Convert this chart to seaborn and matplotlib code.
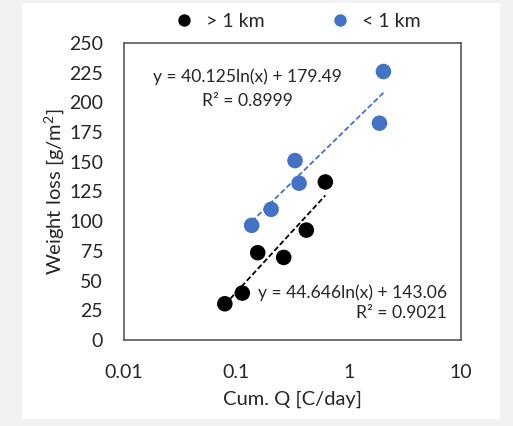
import numpy as np
import pandas as pd
import matplotlib
matplotlib.use("Agg")
import matplotlib.pyplot as plt
from matplotlib.patches import Rectangle
from matplotlib.ticker import LogLocator, MultipleLocator, FixedLocator
import seaborn as sns

# data
far_q = [0.079, 0.113, 0.155, 0.264, 0.42, 0.62]
far_loss = [30.5, 39.5, 73.5, 69.5, 92.5, 133]
near_q = [0.137, 0.204, 0.333, 0.362, 1.88, 2.04]
near_loss = [96.5, 110, 151, 132, 182.5, 226]

# logarithmic trendlines y = a*ln(x) + b as printed on the chart
far_fit = [44.646, 143.06]
near_fit = [40.125, 179.49]
far_r2 = 0.9021
near_r2 = 0.8999

series_labels = ["> 1 km", "< 1 km"]
colors = ["#000000", "#4472C4"]

sns.set_style("white")
plt.rcParams["font.family"] = ["Lato", "DejaVu Sans"]
plt.rcParams["mathtext.fontset"] = "custom"
plt.rcParams["mathtext.rm"] = "Lato"
plt.rcParams["mathtext.it"] = "Lato:italic"
text_col = "#262626"
axis_col = "#595959"

df = pd.DataFrame({
    "q": far_q + near_q,
    "loss": far_loss + near_loss,
    "group": [series_labels[0]] * len(far_q) + [series_labels[1]] * len(near_q),
})

fig = plt.figure(figsize=(5.13, 4.26), dpi=100, facecolor="#f2f2f2")
fig.patches.append(Rectangle((22 / 513, 1 - 419 / 426), 478 / 513, 416 / 426,
                             transform=fig.transFigure, facecolor="white",
                             edgecolor="none", zorder=-10))
ax = fig.add_axes([124 / 513, 1 - 340 / 426, 337 / 513, 297 / 426])
ax.set_facecolor("white")

# trendlines
for q, (a, b), col in [(far_q, far_fit, colors[0]), (near_q, near_fit, colors[1])]:
    xs = np.geomspace(min(q), max(q), 50)
    sns.lineplot(x=xs, y=a * np.log(xs) + b, ax=ax, color=col, lw=1.3,
                 linestyle=(0, (3, 1.5)), zorder=2)

sns.scatterplot(data=df, x="q", y="loss", hue="group", palette=colors,
                s=125, edgecolor="none", ax=ax, zorder=3, legend=True)

ax.set_xscale("log")
ax.set_xlim(0.01, 10)
ax.set_ylim(0, 250)
ax.xaxis.set_major_locator(FixedLocator([0.01, 0.1, 1, 10]))
ax.xaxis.set_minor_locator(LogLocator(base=10, subs=np.arange(2, 10)))
ax.set_xticklabels(["0.01", "0.1", "1", "10"])
ax.yaxis.set_major_locator(MultipleLocator(25))
ax.yaxis.set_minor_locator(MultipleLocator(12.5))

ax.tick_params(which="major", direction="out", length=5, width=1, color=axis_col,
               labelsize=14, labelcolor=text_col)
ax.tick_params(axis="y", which="major", pad=10)
ax.tick_params(axis="x", which="major", pad=12)
ax.tick_params(which="minor", direction="out", length=3, width=1, color=axis_col)
for sp in ax.spines.values():
    sp.set_color(axis_col)
    sp.set_linewidth(1.2)

ax.set_xlabel("Cum. Q [C/day]", fontsize=14.5, color=text_col)
ax.set_ylabel("Weight loss [g/m$^2$]", fontsize=14.5, color=text_col)
ax.xaxis.set_label_coords(0.5, -0.17)
ax.yaxis.set_label_coords(-0.172, 0.5)

eq_size = 12.6
ax.text(0.365, 0.886, f"y = {near_fit[0]}ln(x) + {near_fit[1]}",
        transform=ax.transAxes, ha="center", va="center", fontsize=eq_size, color=text_col)
ax.text(0.365, 0.805, f"R² = {near_r2}",
        transform=ax.transAxes, ha="center", va="center", fontsize=eq_size, color=text_col)
ax.text(0.958, 0.158, f"y = {far_fit[0]}ln(x) + {far_fit[1]:.2f}",
        transform=ax.transAxes, ha="right", va="center", fontsize=eq_size, color=text_col)
ax.text(0.958, 0.091, f"R² = {far_r2}",
        transform=ax.transAxes, ha="right", va="center", fontsize=eq_size, color=text_col)

handles, labels = ax.get_legend_handles_labels()
ax.legend(handles, labels, loc="lower center", bbox_to_anchor=(0.5, 0.985), ncol=2,
          frameon=False, fontsize=14, columnspacing=2.9, handletextpad=0.1,
          labelcolor=text_col, markerscale=0.8)

fig.savefig("out.png", dpi=100, facecolor=fig.get_facecolor())
